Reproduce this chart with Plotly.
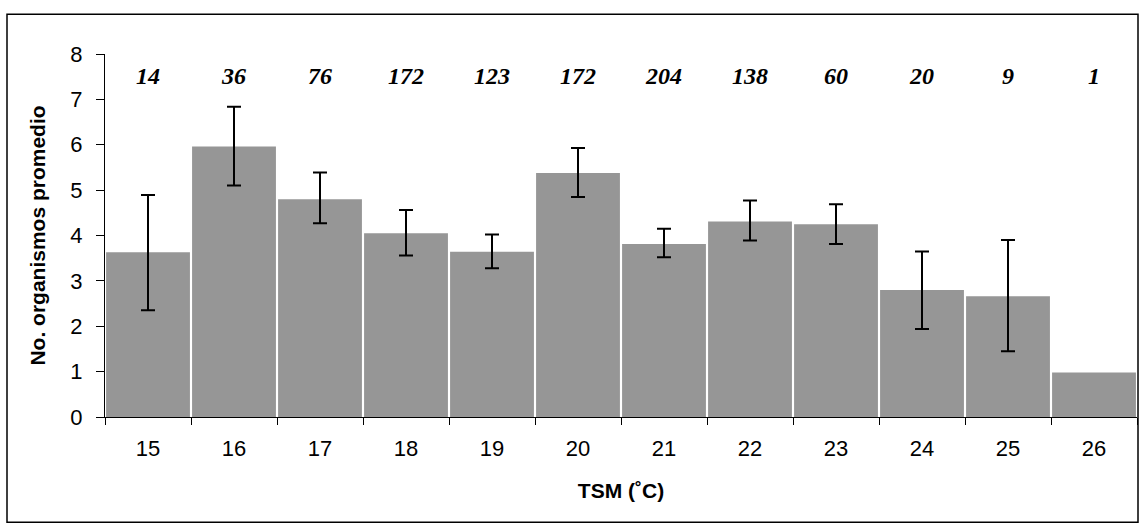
import plotly.graph_objects as go

temps = ["15", "16", "17", "18", "19", "20", "21", "22", "23", "24", "25", "26"]
mean_org = [3.63, 5.96, 4.80, 4.05, 3.64, 5.38, 3.81, 4.31, 4.25, 2.80, 2.66, 0.98]
err_plus = [1.26, 0.88, 0.59, 0.51, 0.38, 0.55, 0.34, 0.46, 0.44, 0.85, 1.24, None]
err_minus = [1.28, 0.86, 0.53, 0.49, 0.36, 0.53, 0.29, 0.42, 0.44, 0.86, 1.21, None]
n_obs = ["14", "36", "76", "172", "123", "172", "204", "138", "60", "20", "9", "1"]
n_label_level = 7.48

# points that have an error estimate (n > 1)
err_x = [t for t, e in zip(temps, err_plus) if e is not None]
err_y = [m for m, e in zip(mean_org, err_plus) if e is not None]
err_p = [e for e in err_plus if e is not None]
err_m = [e for e in err_minus if e is not None]

fig = go.Figure()
fig.add_trace(go.Bar(
    x=temps, y=mean_org,
    marker=dict(color="#969696", line=dict(width=0)),
    showlegend=False, hoverinfo="skip",
))
fig.add_trace(go.Scatter(
    x=err_x, y=err_y, mode="markers",
    marker=dict(size=1, opacity=0),
    error_y=dict(type="data", symmetric=False, array=err_p, arrayminus=err_m,
                 color="black", thickness=2, width=7),
    showlegend=False, hoverinfo="skip",
))
fig.add_trace(go.Scatter(
    x=temps, y=[n_label_level] * len(temps), mode="text",
    text=[f"<b><i>{t}</i></b>" for t in n_obs],
    textfont=dict(family="Liberation Serif, Times New Roman, serif", size=24, color="black"),
    showlegend=False, hoverinfo="skip",
))

sans = "Liberation Sans, Arial, sans-serif"
tick_font = dict(family=sans, size=22, color="black")
title_font = dict(family=sans, size=21, color="black")
fig.update_layout(
    width=1139, height=532,
    margin=dict(l=105, r=2, t=54, b=115),
    paper_bgcolor="white", plot_bgcolor="white",
    bargap=0.025,
    font=tick_font,
    xaxis=dict(
        type="category", range=[-0.5, len(temps) - 0.5],
        tickson="boundaries", ticks="outside", ticklen=7, tickwidth=1,
        tickcolor="black", showline=True, linecolor="black", linewidth=1,
        showgrid=False, tickfont=tick_font, ticklabelstandoff=12,
        title=dict(text="<b>TSM (˚C)</b>", font=title_font, standoff=22),
    ),
    yaxis=dict(
        range=[0, 8], dtick=1, ticks="outside", ticklen=8, tickwidth=1, tickcolor="black",
        showline=True, linecolor="black", linewidth=1, showgrid=False, zeroline=False,
        tickfont=tick_font, ticklabelstandoff=9,
        title=dict(text="<b>No. organismos promedio</b>", font=title_font, standoff=18),
    ),
    shapes=[dict(type="rect", xref="paper", yref="paper",
                 x0=(7 - 105) / 1032, x1=(1138 - 105) / 1032,
                 y0=(416.7 - 522) / 363, y1=(416.7 - 14) / 363,
                 line=dict(color="black", width=1.5), fillcolor="rgba(0,0,0,0)", layer="below")],
)

fig.write_html(
    "out.html",
    config={"displayModeBar": False},
    post_script="document.body.style.margin='0';document.documentElement.style.overflow='hidden';",
)
